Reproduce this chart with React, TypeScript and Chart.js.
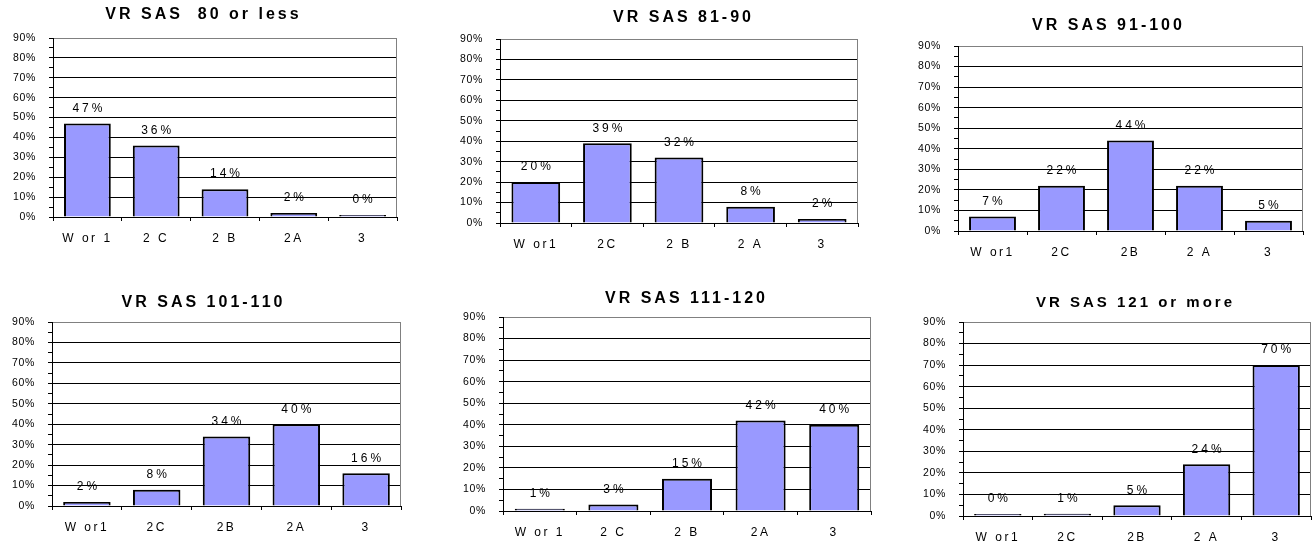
import React, { useEffect, useRef } from 'react';
import { Chart, registerables } from 'chart.js';

Chart.register(...registerables);

// ---- data ----
const titles = [
  'VR SAS  80 or less',
  'VR SAS 81-90',
  'VR SAS 91-100',
  'VR SAS 101-110',
  'VR SAS 111-120',
  'VR SAS 121 or more',
];

const categories1 = ['W or 1', '2 C', '2 B', '2A', '3'];
const categories2 = ['W or1', '2C', '2 B', '2 A', '3'];
const categories3 = ['W or1', '2C', '2B', '2 A', '3'];
const categories4 = ['W or1', '2C', '2B', '2A', '3'];
const categories5 = ['W or 1', '2 C', '2 B', '2A', '3'];
const categories6 = ['W or1', '2C', '2B', '2 A', '3'];

const values1 = [47, 36, 14, 2, 0];
const values2 = [20, 39, 32, 8, 2];
const values3 = [7, 22, 44, 22, 5];
const values4 = [2, 8, 34, 40, 16];
const values5 = [1, 3, 15, 42, 40];
const values6 = [0, 1, 5, 24, 70];

const yMax = 90;
const yStep = 5;
const yLabelStep = 10;

// ---- layout (page pixel geometry of each panel's plot area) ----
const panelBoxes = [
  { L: 53, R: 397, T: 38, B: 217, tx: 202, ty: 15, ts: 16 },
  { L: 500, R: 858, T: 39, B: 223, tx: 682, ty: 18, ts: 16 },
  { L: 958, R: 1303, T: 46, B: 231, tx: 1107, ty: 26, ts: 16 },
  { L: 52, R: 401, T: 322, B: 506, tx: 202, ty: 303, ts: 16 },
  { L: 503, R: 871, T: 317, B: 511, tx: 685, ty: 299, ts: 16 },
  { L: 963, R: 1311, T: 322, B: 516, tx: 1134, ty: 303, ts: 15 },
];

const panels = [
  { title: titles[0], cats: categories1, vals: values1 },
  { title: titles[1], cats: categories2, vals: values2 },
  { title: titles[2], cats: categories3, vals: values3 },
  { title: titles[3], cats: categories4, vals: values4 },
  { title: titles[4], cats: categories5, vals: values5 },
  { title: titles[5], cats: categories6, vals: values6 },
];

const Y_AXIS_W = 50;
const TOP_SPACE = 40;
const X_AXIS_H = 30;
const RIGHT_PAD = 6;
const FONT = "'Liberation Sans', Arial, sans-serif";
const TITLE_SPACING = 3;
const LABEL_SPACING = 3;
const XTICK_SPACING = 2.5;

const decoPlugin = {
  id: 'panelDeco',
  beforeDraw(chart: any) {
    chart.ctx.letterSpacing = '0.7px';
  },
  beforeDatasetsDraw(chart: any) {
    const { ctx, chartArea: a } = chart;
    ctx.save();
    ctx.strokeStyle = '#808080';
    ctx.lineWidth = 1;
    ctx.beginPath();
    const x = Math.round(a.right) - 0.5;
    ctx.moveTo(x, a.top);
    ctx.lineTo(x, a.bottom);
    ctx.stroke();
    ctx.restore();
  },
  afterDatasetsDraw(chart: any) {
    const { ctx } = chart;
    const meta = chart.getDatasetMeta(0);
    const data = chart.data.datasets[0].data;
    ctx.save();
    ctx.letterSpacing = `${LABEL_SPACING}px`;
    ctx.font = `12px ${FONT}`;
    ctx.fillStyle = '#000';
    ctx.textAlign = 'center';
    ctx.textBaseline = 'middle';
    meta.data.forEach((el: any, i: number) => {
      ctx.fillText(`${data[i]}%`, el.x + LABEL_SPACING / 2, el.y - 15);
    });
    ctx.restore();
    ctx.letterSpacing = `${XTICK_SPACING}px`;
  },
  afterDraw(chart: any, _args: any, opts: any) {
    const { ctx } = chart;
    ctx.save();
    ctx.letterSpacing = `${TITLE_SPACING}px`;
    ctx.font = `bold ${opts.size}px ${FONT}`;
    ctx.fillStyle = '#000';
    ctx.textAlign = 'center';
    ctx.textBaseline = 'middle';
    ctx.fillText(opts.text, opts.x + TITLE_SPACING / 2, opts.y);
    ctx.restore();
    ctx.letterSpacing = '0px';
  },
};

function Panel({ idx }: { idx: number }) {
  const ref = useRef<HTMLCanvasElement | null>(null);
  const p = panels[idx];
  const g = panelBoxes[idx];
  const left = g.L - Y_AXIS_W;
  const top = g.T - TOP_SPACE;
  const width = g.R - g.L + Y_AXIS_W + RIGHT_PAD;
  const height = g.B - g.T + TOP_SPACE + X_AXIS_H;

  useEffect(() => {
    if (!ref.current) return;
    const chart = new Chart(ref.current, {
      type: 'bar',
      data: {
        labels: p.cats,
        datasets: [
          {
            data: p.vals,
            backgroundColor: '#9999FF',
            borderColor: '#000000',
            borderWidth: 2,
            borderSkipped: 'start',
            barPercentage: 1,
            categoryPercentage: 0.68,
            minBarLength: 2,
          },
        ],
      },
      options: {
        responsive: false,
        animation: false,
        events: [],
        layout: { padding: { top: TOP_SPACE, right: RIGHT_PAD, left: 0, bottom: 0 } },
        plugins: {
          legend: { display: false },
          title: { display: false },
          tooltip: { enabled: false },
          panelDeco: { text: p.title, x: g.tx - left, y: g.ty - top, size: g.ts },
        } as any,
        scales: {
          x: {
            type: 'category',
            offset: true,
            grid: {
              offset: true,
              drawOnChartArea: false,
              drawTicks: true,
              tickLength: 4,
              tickColor: '#000',
              color: '#000',
            },
            border: { display: true, color: '#000', width: 1, z: 1 },
            ticks: {
              color: '#000',
              font: { family: FONT, size: 12 },
              padding: 10,
              maxRotation: 0,
              autoSkip: false,
              z: 1,
            },
            afterFit: (s: any) => {
              s.height = X_AXIS_H;
            },
          },
          y: {
            min: 0,
            max: yMax,
            grid: {
              drawTicks: true,
              tickLength: 4,
              tickColor: '#000',
              lineWidth: 1,
              color: (c: any) => {
                const v = c.tick ? c.tick.value : 0;
                if (v % yLabelStep !== 0) return 'rgba(0,0,0,0)';
                if (v === yMax) return '#808080';
                return '#000';
              },
            },
            border: { display: true, color: '#000', width: 1 },
            ticks: {
              stepSize: yStep,
              autoSkip: false,
              color: '#000',
              font: { family: FONT, size: 10.5 },
              padding: 13,
              callback: (v: any) => (Number(v) % yLabelStep === 0 ? `${v}%` : ''),
            },
            afterFit: (s: any) => {
              s.width = Y_AXIS_W;
            },
          },
        },
      },
      plugins: [decoPlugin],
    });
    return () => chart.destroy();
  }, []);

  return (
    <div style={{ position: 'absolute', left, top, width, height }}>
      <canvas ref={ref} width={width} height={height} style={{ display: 'block' }} />
    </div>
  );
}

export default function App() {
  return (
    <div
      style={{
        position: 'fixed',
        left: 0,
        top: 0,
        width: 1315,
        height: 546,
        background: '#fff',
        overflow: 'hidden',
      }}
    >
      {panels.map((_, i) => (
        <Panel key={i} idx={i} />
      ))}
    </div>
  );
}
